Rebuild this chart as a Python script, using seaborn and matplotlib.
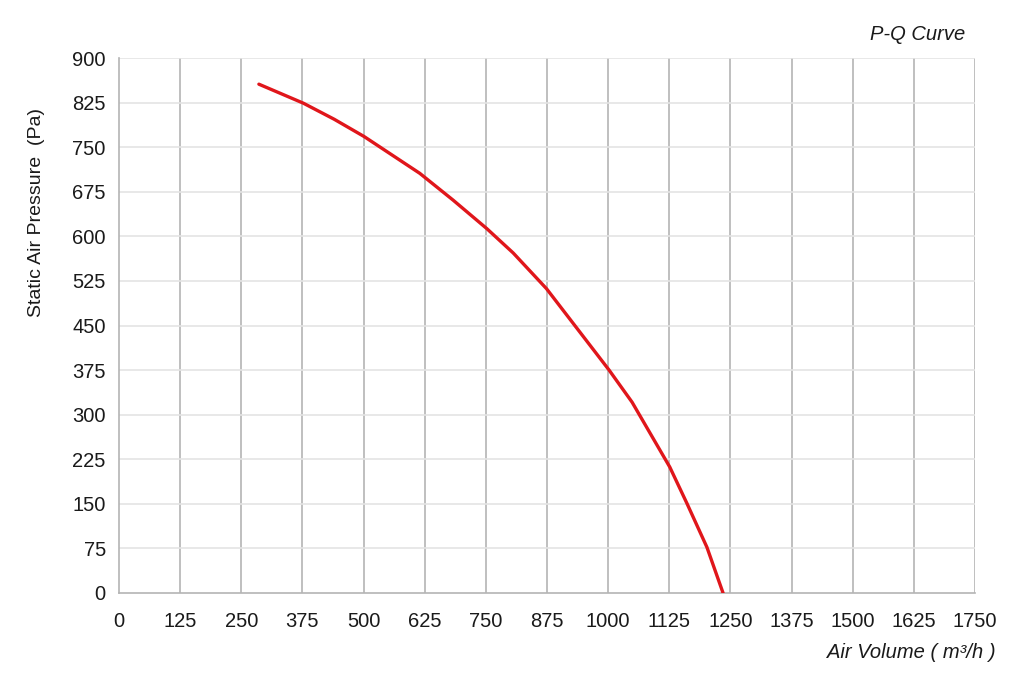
import matplotlib
matplotlib.use('Agg')
import matplotlib.pyplot as plt
import numpy as np
import pandas as pd
import seaborn as sns
from matplotlib.ticker import MultipleLocator

# P-Q curve
air_volume = [286, 377, 440, 501, 615, 683, 752, 806, 874,
              1002, 1049, 1126, 1161, 1202, 1235]
pressure = [856, 824, 797, 768, 706, 661, 613, 572, 512,
            375, 321, 212, 151, 77, 0]

x_ticks = list(range(0, 1751, 125))
y_ticks = list(range(0, 901, 75))

sns.set_style('white')
plt.rcParams['font.family'] = ['Liberation Sans', 'DejaVu Sans']

df = pd.DataFrame({'Q': air_volume, 'P': pressure})

fig = plt.figure(figsize=(10.24, 6.9), dpi=100)
ax = fig.add_axes([0.1162, 0.1406, 0.8359, 0.7753])

ax.set_xlim(0, 1750)
ax.set_ylim(0, 900)
ax.set_xticks(x_ticks)
ax.set_yticks(y_ticks)
ax.xaxis.set_minor_locator(MultipleLocator(25))
ax.yaxis.set_minor_locator(MultipleLocator(15))

ax.grid(False)
for xv in x_ticks[1:]:
    ax.axvline(xv, color='#b4b4b4', lw=1.2, zorder=1)
for yv in y_ticks[1:]:
    ax.axhline(yv, color='#e4e4e4', lw=1.2, zorder=1)

sns.lineplot(data=df, x='Q', y='P', ax=ax, color='#e0161b', lw=2.4, zorder=3)

for s in ['top', 'right']:
    ax.spines[s].set_visible(False)
ax.spines['left'].set_color('#b4b4b4')
ax.spines['bottom'].set_color('#b4b4b4')
ax.spines['left'].set_linewidth(1.2)
ax.spines['bottom'].set_linewidth(1.2)

ax.tick_params(axis='both', which='major', length=6.5, width=1.2, color='#b4b4b4',
               labelsize=14.5, labelcolor='#1a1a1a', direction='out')
ax.tick_params(axis='y', which='major', pad=3)
ax.tick_params(axis='x', which='major', pad=7)
ax.tick_params(axis='both', which='minor', length=3.5, width=1.0, color='#c0c0c0',
               direction='out')

ax.set_xlabel('')
ax.set_ylabel('')

fig.text(0.036, 1 - 212 / 690, 'Static Air Pressure  (Pa)', rotation=90,
         fontsize=14, ha='center', va='center', color='#1a1a1a')
fig.text(0.972, 0.055, 'Air Volume ( m\u00b3/h )', fontsize=14.5, style='italic',
         ha='right', va='center', color='#1a1a1a')
fig.text(0.943, 0.950, 'P-Q Curve', fontsize=14.5, style='italic',
         ha='right', va='center', color='#1a1a1a')

fig.savefig('out.png', dpi=100, facecolor='white')
